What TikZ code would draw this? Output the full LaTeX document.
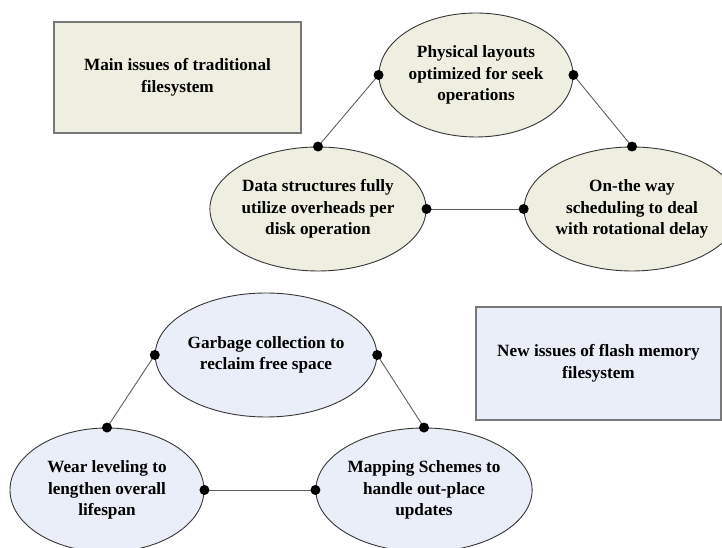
\documentclass[tikz,border=0pt]{standalone}
\usepackage{fontspec}
\setmainfont{Liberation Serif}
\usetikzlibrary{shapes.geometric}
\definecolor{oldfill}{RGB}{238,238,225}
\definecolor{newfill}{RGB}{234,238,248}
\definecolor{boxline}{RGB}{120,120,120}
\definecolor{ovalline}{RGB}{55,55,55}
\definecolor{linkline}{RGB}{95,95,95}
\tikzset{
  lbl/.style={font=\bfseries\fontsize{17.2}{21.7}\selectfont, align=center, text=black},
  headbox/.style={lbl, draw=boxline, line width=1.4pt, rectangle, inner sep=0pt},
  issue/.style={lbl, draw=ovalline, line width=0.9pt, ellipse, inner sep=0pt,
                minimum width=194pt, minimum height=124pt},
  link/.style={draw=linkline, line width=0.9pt},
  dot/.style={fill=black, circle, inner sep=0pt, minimum size=10pt}
}
\begin{document}
\begin{tikzpicture}[x=1pt, y=1pt]
\path[use as bounding box, clip] (0,0) rectangle (722,548);
\fill[white] (0,0) rectangle (722,548);

% traditional filesystem group
\node[headbox, fill=oldfill, minimum width=247pt, minimum height=111pt] (oldhead) at (177.5,470.5)
  {Main issues of traditional\\filesystem};
\node[issue, fill=oldfill] (layout) at (476,473) {Physical layouts\\optimized for seek\\operations};
\node[issue, fill=oldfill] (datas) at (318,339) {Data structures fully\\utilize overheads per\\disk operation};
\node[issue, fill=oldfill] (sched) at (632,339) {On-the way\\scheduling to deal\\with rotational delay};

% flash memory filesystem group
\node[headbox, fill=newfill, minimum width=245pt, minimum height=113pt] (newhead) at (598.5,184.5)
  {New issues of flash memory\\filesystem};
\node[issue, fill=newfill] (gc) at (266,193) {Garbage collection to\\reclaim free space};
\node[issue, fill=newfill] (wear) at (107,58) {Wear leveling to\\lengthen overall\\lifespan};
\node[issue, fill=newfill] (map) at (424,58) {Mapping Schemes to\\handle out-place\\updates};

% connectors with dot ends
\draw[link] (datas.north) -- (layout.west);
\draw[link] (layout.east) -- (sched.north);
\draw[link] (datas.east) -- (sched.west);
\draw[link] (gc.west) -- (wear.north);
\draw[link] (gc.east) -- (map.north);
\draw[link] (wear.east) -- (map.west);

\foreach \a in {datas.north, layout.west, layout.east, sched.north, datas.east, sched.west,
                gc.west, wear.north, gc.east, map.north, wear.east, map.west}
  \node[dot] at (\a) {};
\end{tikzpicture}
\end{document}
